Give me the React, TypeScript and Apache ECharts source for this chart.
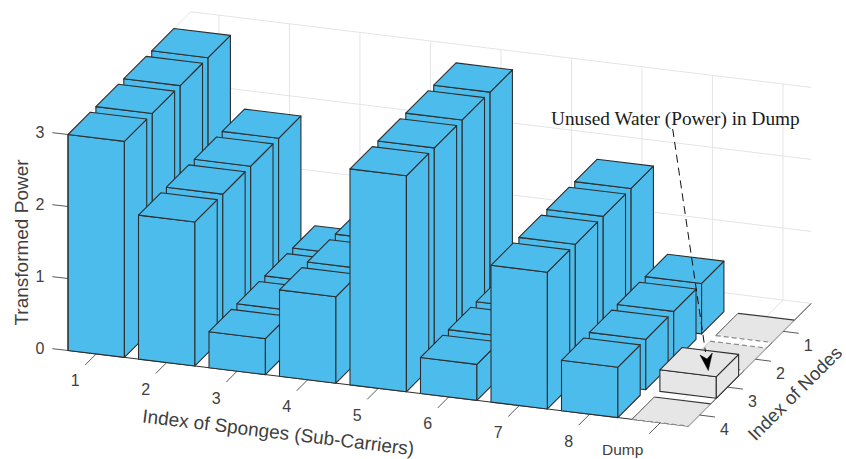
import React, { useEffect, useRef } from "react";
import * as echarts from "echarts";

const spongeLabels = ["1", "2", "3", "4", "5", "6", "7", "8", "Dump"];
const nodeLabels = ["1", "2", "3", "4"];
const powerTicks = [0, 1, 2, 3];
const node1Power = [3, 2, 0.5, 1.2, 3, 0.5, 1.9, 0.7, 0];
const node2Power = [3, 2, 0.5, 1.2, 3, 0.5, 1.9, 0.7, 0];
const node3Power = [3, 2, 0.5, 1.2, 3, 0.5, 1.9, 0.7, 0.3];
const node4Power = [3, 2, 0.5, 1.2, 3, 0.5, 1.9, 0.7, 0];
const powerByNode = [node1Power, node2Power, node3Power, node4Power];

const X_MIN = 0.6;
const X_MAX = 9.4;
const Y_FRONT = 4.4;
const Y_BACK = 0;
const Z_TOP = 3;
const BAR_HALF = 0.4;
const X_PX = 70.5;
const Z_PX = 72;
const D_PX = 27.9;
const S_PX = 8.6;

const BLUE = "#4cbcec";
const GRAY = "#e6e6e6";
const EDGE = "#2e2e2e";
const TEXT = "#404040";
const GRID = "#e4e4e4";
const SANS = "'Liberation Sans', Arial, sans-serif";

function project(api: any, x: number, y: number, z: number): number[] {
  const depth = Y_FRONT - y;
  return api.coord([
    x + (depth * D_PX) / X_PX,
    z - ((x - X_MIN) * S_PX) / Z_PX + (depth * D_PX) / Z_PX,
  ]);
}

function poly(points: number[][], fill: string, stroke: string, lineWidth = 1.1) {
  return { type: "polygon", shape: { points }, style: { fill, stroke, lineWidth, lineJoin: "round" } };
}
function seg(a: number[], b: number[], stroke: string, lineWidth = 1, lineDash?: number[]) {
  return {
    type: "line",
    shape: { x1: a[0], y1: a[1], x2: b[0], y2: b[1] },
    style: { stroke, lineWidth, fill: "none", lineDash },
  };
}
function label(text: string, p: number[], fontSize: number, rotation = 0, align = "center") {
  return {
    type: "text",
    x: p[0],
    y: p[1],
    rotation,
    style: { text, x: 0, y: 0, fontSize, fontFamily: SANS, fill: TEXT, align, verticalAlign: "middle" },
  };
}

function renderBack(_: any, api: any) {
  const P = (x: number, y: number, z: number) => project(api, x, y, z);
  const children: any[] = [];
  spongeLabels.forEach((_l, i) => {
    children.push(seg(P(i + 1, Y_BACK, 0), P(i + 1, Y_BACK, Z_TOP), GRID));
    children.push(seg(P(i + 1, Y_BACK, 0), P(i + 1, Y_FRONT, 0), GRID));
  });
  powerTicks.forEach((z) => {
    children.push(seg(P(X_MIN, Y_BACK, z), P(X_MAX, Y_BACK, z), GRID));
  });
  children.push(seg(P(X_MIN, Y_BACK, Z_TOP), P(X_MIN, Y_FRONT, Z_TOP), GRID));
  children.push(seg(P(X_MIN, Y_FRONT, 0), P(X_MAX, Y_FRONT, 0), EDGE));
  children.push(seg(P(X_MAX, Y_FRONT, 0), P(X_MAX, Y_BACK, 0), EDGE));
  return { type: "group", children };
}

function renderBar(_: any, api: any) {
  const s = api.value(0);
  const n = api.value(1);
  const v = api.value(2);
  const x0 = s - BAR_HALF;
  const x1 = s + BAR_HALF;
  const yF = n + BAR_HALF;
  const yB = n - BAR_HALF;
  const P = (x: number, y: number, z: number) => project(api, x, y, z);
  const fill = s === spongeLabels.length ? GRAY : BLUE;
  if (v === 0) {
    const solidBack = n !== 2;
    return {
      type: "group",
      children: [
        poly([P(x0, yF, 0), P(x1, yF, 0), P(x1, yB, 0), P(x0, yB, 0)], fill, "none", 0),
        seg(P(x1, yF, 0), P(x1, yB, 0), "#b4b4b4", 1.3),
        seg(P(x0, yF, 0), P(x0, yB, 0), n === 2 ? "#c8c8c8" : "#555555"),
        solidBack
          ? seg(P(x0, yB, 0), P(x1, yB, 0), "#3a3a3a", 1.2)
          : seg(P(x0, yB, 0), P(x1, yB, 0), "#8a8a8a", 1.2, [5, 3]),
        seg(P(x0, yF, 0), P(x1, yF, 0), "#8a8a8a", 1.2, [5, 3]),
      ],
    };
  }
  return {
    type: "group",
    children: [
      poly([P(x0, yF, 0), P(x1, yF, 0), P(x1, yF, v), P(x0, yF, v)], fill, EDGE),
      poly([P(x1, yF, 0), P(x1, yB, 0), P(x1, yB, v), P(x1, yF, v)], fill, EDGE),
      poly([P(x0, yF, v), P(x1, yF, v), P(x1, yB, v), P(x0, yB, v)], fill, EDGE),
    ],
  };
}

function renderFront(_: any, api: any) {
  const P = (x: number, y: number, z: number) => project(api, x, y, z);
  const children: any[] = [];
  children.push(seg(P(X_MIN, Y_FRONT, 0), P(X_MIN, Y_FRONT, Z_TOP), EDGE));
  spongeLabels.forEach((text, i) => {
    const a = P(i + 1, Y_FRONT, 0);
    children.push(seg(a, [a[0] - 11, a[1] + 11], EDGE, 0.8));
    const isDump = i === spongeLabels.length - 1;
    children.push(label(text, [a[0] - (isDump ? 37.5 : 21), a[1] + 27], isDump ? 15.5 : 16));
  });
  nodeLabels.forEach((text, i) => {
    const a = P(X_MAX, i + 1, 0);
    children.push(seg(a, [a[0] + 15.5, a[1] + 2], EDGE, 0.8));
    children.push(label(text, [a[0] + 25, a[1] + 14], 16));
  });
  powerTicks.forEach((z) => {
    const a = P(X_MIN, Y_FRONT, z);
    children.push(seg(a, [a[0] - 15.7, a[1] - 1.8], EDGE, 0.8));
    children.push(label(String(z), [a[0] - 28, a[1] - 2], 16));
  });
  const sx = P((X_MIN + X_MAX) / 2, Y_FRONT, 0);
  children.push(label("Index of Sponges (Sub-Carriers)", [sx[0] - 100, sx[1] + 44], 19, -Math.atan(S_PX / X_PX)));
  const nx = P(X_MAX, (Y_FRONT + Y_BACK) / 2, 0);
  children.push(label("Index of Nodes", [nx[0] + 45, nx[1] + 28.5], 18.5, Math.PI / 4));
  const zx = P(X_MIN, Y_FRONT, 1.5);
  children.push(label("Transformed Power", [zx[0] - 47, zx[1]], 19, Math.PI / 2));
  return { type: "group", children };
}

const barData: number[][] = [];
spongeLabels.forEach((_l, s) => {
  powerByNode.forEach((values, n) => {
    barData.push([s + 1, n + 1, values[s]]);
  });
});

export default function App() {
  const ref = useRef<HTMLDivElement>(null);
  useEffect(() => {
    const chart = echarts.init(ref.current!, undefined, { renderer: "svg" });
    const custom = (name: string, renderItem: any, data: any[], z: number) => ({
      type: "custom",
      name,
      renderItem,
      data,
      z,
      silent: true,
      clip: false,
      coordinateSystem: "cartesian2d",
      encode: { x: 0, y: 2 },
    });
    chart.setOption({
      animation: false,
      backgroundColor: "#ffffff",
      grid: { left: 68, width: (X_MAX - X_MIN) * X_PX, top: 350.5 - Z_TOP * Z_PX, height: Z_TOP * Z_PX },
      xAxis: { type: "value", min: X_MIN, max: X_MAX, show: false },
      yAxis: { type: "value", min: 0, max: Z_TOP, show: false },
      series: [
        custom("frame-back", renderBack, [[1, 1, 0]], 1),
        custom("Transformed Power", renderBar, barData, 2),
        custom("frame-front", renderFront, [[1, 1, 0]], 3),
      ],
      graphic: [
        {
          type: "text",
          z: 10,
          x: 551,
          y: 118,
          style: {
            text: "Unused Water (Power) in Dump",
            fontSize: 19.3,
            fontFamily: "'Liberation Serif', serif",
            fill: "#1a1a1a",
            align: "left",
            verticalAlign: "middle",
          },
        },
        {
          type: "polyline",
          z: 10,
          shape: { points: [[672.7, 129], [705.5, 352]] },
          style: { stroke: "#111111", lineWidth: 1, lineDash: [8, 5], fill: "none" },
        },
        {
          type: "polygon",
          z: 10,
          shape: { points: [[700, 355], [708.3, 370.5], [712.3, 353], [707, 359]] },
          style: { fill: "#000000", stroke: "#000000", lineWidth: 0.5 },
        },
      ],
    });
    return () => chart.dispose();
  }, []);
  return <div ref={ref} style={{ position: "absolute", left: 0, top: 0, width: 846, height: 459 }} />;
}
